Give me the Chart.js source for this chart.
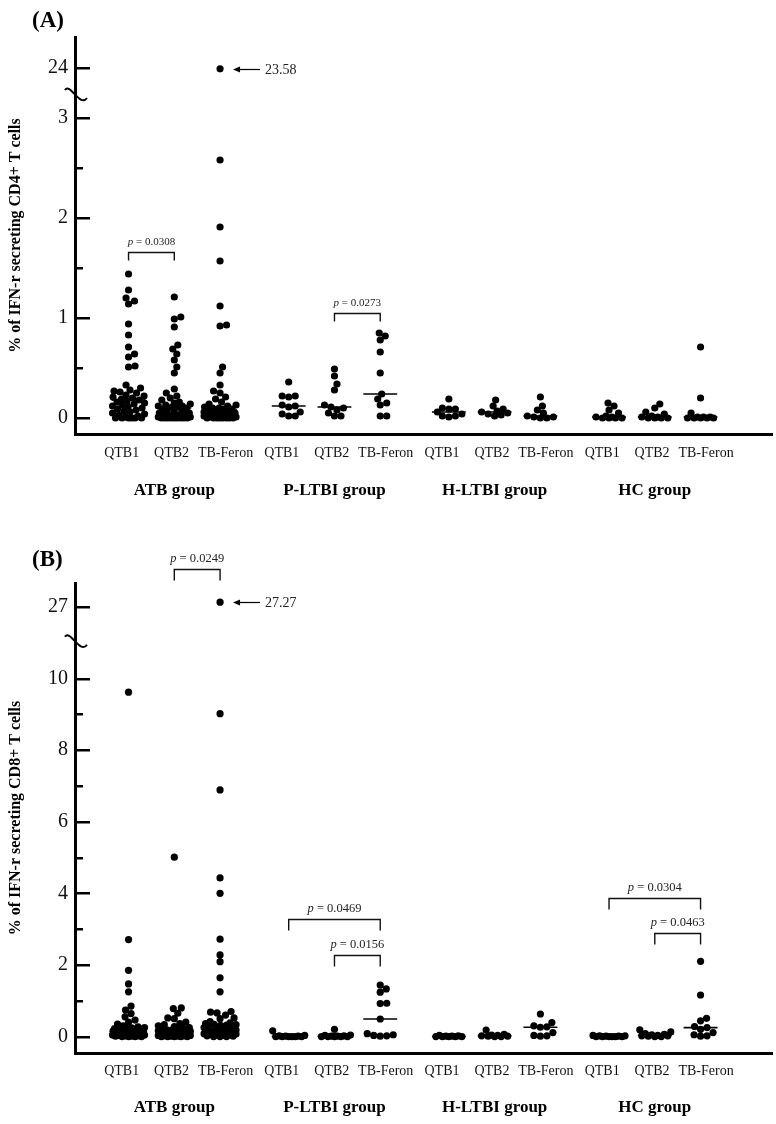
<!DOCTYPE html>
<html><head><meta charset="utf-8">
<script src="https://cdn.jsdelivr.net/npm/chart.js@4.4.1/dist/chart.umd.min.js"></script>
<style>
html,body{margin:0;padding:0;background:#fff;}
#wrap{position:relative;width:776px;height:1124px;overflow:hidden;}
.pane{position:absolute;left:0;width:776px;}
</style></head><body>
<div id="wrap">
  <div class="pane" style="top:0;height:520px"><canvas id="cA" width="776" height="520"></canvas></div>
  <div class="pane" style="top:520px;height:604px"><canvas id="cB" width="776" height="604"></canvas></div>
</div>
<script>
// ---------- categories ----------
const groups  = ['ATB group', 'P-LTBI group', 'H-LTBI group', 'HC group'];
const methods = ['QTB1', 'QTB2', 'TB-Feron'];

// ---------- Panel A: % IFN-r secreting CD4+ T cells ([QTB1, QTB2, TB-Feron]) ----------
const cd4ATB = [
  [1.44,1.28,1.20,1.17,1.14,0.94,0.83,0.71,0.64,0.61,0.52,0.51,0.33,0.30,0.28,0.27,0.26,0.25,0.23,0.22,0.21,0.20,0.19,0.18,0.17,0.16,0.15,0.14,0.13,0.12,0.11,0.10,0.09,0.08,0.07,0.06,0.05,0.04,0.03,0.02,0.01,0,0,0,0,0,0],
  [1.21,1.01,0.99,0.91,0.73,0.69,0.64,0.58,0.51,0.45,0.29,0.25,0.22,0.20,0.18,0.16,0.15,0.14,0.13,0.12,0.12,0.11,0.11,0.10,0.09,0.08,0.07,0.06,0.05,0.05,0.04,0.04,0.03,0.03,0.02,0.02,0.01,0.01,0,0,0,0,0,0,0,0,0],
  [23.58,2.58,1.91,1.57,1.12,0.93,0.92,0.51,0.45,0.33,0.27,0.25,0.21,0.19,0.16,0.14,0.13,0.12,0.11,0.10,0.10,0.09,0.09,0.08,0.07,0.07,0.06,0.06,0.05,0.05,0.04,0.04,0.03,0.03,0.02,0.02,0.02,0.01,0.01,0,0,0,0,0,0,0,0]
];
const cd4PLTBI = [
  [0.36,0.22,0.22,0.21,0.13,0.12,0.11,0.06,0.04,0.02,0.02],
  [0.49,0.42,0.34,0.28,0.13,0.11,0.10,0.08,0.05,0.02,0.02],
  [0.85,0.82,0.78,0.66,0.45,0.24,0.19,0.15,0.13,0.02,0.02]
];
const cd4HLTBI = [
  [0.19,0.10,0.09,0.09,0.06,0.04,0.02,0.02,0.01],
  [0.18,0.12,0.09,0.07,0.06,0.05,0.04,0.03,0.02],
  [0.21,0.12,0.08,0.05,0.02,0.01,0.01,0,0]
];
const cd4HC = [
  [0.15,0.12,0.08,0.05,0.02,0.01,0.01,0,0,0,0],
  [0.14,0.10,0.06,0.04,0.02,0.01,0.01,0,0,0,0],
  [0.71,0.20,0.05,0.01,0.01,0.01,0,0,0,0,0]
];
const cd4MajorTicks = [0, 1, 2, 3, 24];
const cd4MinorTicks = [0.5, 1.5, 2.5];
const cd4Brackets = [
  {group: 0, from: 0, to: 1, level: 1.66, p: '0.0308'},
  {group: 1, from: 1, to: 2, level: 1.05, p: '0.0273'}
];

// ---------- Panel B: % IFN-r secreting CD8+ T cells ----------
const cd8ATB = [
  [9.62,2.71,1.85,1.47,1.25,0.85,0.74,0.64,0.55,0.46,0.40,0.35,0.30,0.27,0.25,0.24,0.23,0.22,0.22,0.21,0.21,0.20,0.20,0.19,0.18,0.16,0.15,0.13,0.12,0.11,0.10,0.09,0.08,0.07,0.06,0.05,0.04,0.04,0.03,0.02,0.02,0.01,0.01,0,0,0,0],
  [5.01,0.80,0.78,0.65,0.52,0.50,0.40,0.36,0.33,0.30,0.28,0.25,0.23,0.21,0.20,0.19,0.18,0.17,0.16,0.15,0.15,0.14,0.14,0.13,0.12,0.11,0.10,0.10,0.09,0.08,0.07,0.06,0.05,0.05,0.04,0.04,0.03,0.03,0.02,0.02,0.01,0.01,0,0,0,0,0],
  [27.27,9.02,6.89,4.43,4.00,2.72,2.28,2.09,1.64,1.25,0.70,0.68,0.66,0.60,0.52,0.50,0.42,0.38,0.36,0.34,0.33,0.32,0.31,0.29,0.27,0.25,0.22,0.20,0.18,0.16,0.15,0.14,0.12,0.11,0.10,0.09,0.08,0.07,0.06,0.05,0.04,0.03,0.02,0.01,0,0,0]
];
const cd8PLTBI = [
  [0.16,0.03,0.02,0.01,0.01,0,0,0,0,0,0],
  [0.20,0.04,0.03,0.02,0.01,0.01,0,0,0,0,0],
  [1.44,1.33,1.24,0.93,0.92,0.49,0.08,0.05,0.03,0.02,0.01]
];
const cd8HLTBI = [
  [0.03,0.02,0.01,0.01,0,0,0,0,0],
  [0.18,0.06,0.04,0.03,0.02,0.01,0.01,0,0],
  [0.63,0.39,0.30,0.27,0.26,0.11,0.03,0.02,0.01]
];
const cd8HC = [
  [0.03,0.02,0.02,0.01,0.01,0,0,0,0,0,0],
  [0.19,0.13,0.08,0.06,0.05,0.03,0.02,0.02,0.01,0,0],
  [2.10,1.16,0.51,0.44,0.28,0.25,0.20,0.11,0.05,0.02,0.01]
];
const cd8MajorTicks = [0, 2, 4, 6, 8, 10, 27];
const cd8MinorTicks = [1, 3, 5, 7, 9];
const cd8Brackets = [
  {group: 0, from: 1, to: 2, level: 13.06, p: '0.0249'},
  {group: 1, from: 0, to: 2, level: 3.28,  p: '0.0469'},
  {group: 1, from: 1, to: 2, level: 2.28,  p: '0.0156'},
  {group: 3, from: 0, to: 2, level: 3.87,  p: '0.0304'},
  {group: 3, from: 1, to: 2, level: 2.90,  p: '0.0463'}
];

// ---------- rendering ----------
const SERIF = "'Liberation Serif','Times New Roman',serif";
Chart.defaults.font.family = SERIF;
Chart.defaults.color = '#000';
const GROUP_STRIDE = 3.5;
const LABEL_SHIFT = [-0.15, -0.06, 0.12];   // label anchor nudges per method (axis units)
const catPos = [], labelPos = [];
groups.forEach((g, gi) => methods.forEach((m, mi) => {
  catPos.push(gi * GROUP_STRIDE + mi);
  labelPos.push(gi * GROUP_STRIDE + mi + LABEL_SHIFT[mi]);
}));

function median(a) {
  const s = [...a].sort((x, y) => x - y), n = s.length;
  return n % 2 ? s[(n - 1) / 2] : (s[n / 2 - 1] + s[n / 2]) / 2;
}

function applySwarm(chart, D, maxHalf) {
  const xs = chart.scales.x, ys = chart.scales.y;
  const unit = xs.getPixelForValue(1) - xs.getPixelForValue(0);
  const cands = [0];
  for (let k = 0.5; k <= maxHalf; k += 0.5) { cands.push(k, -k); }
  chart.data.datasets.forEach(ds => {
    if (!ds.swarm) return;
    const pts = ds.data.map(p => ({p, py: ys.getPixelForValue(p.y)}));
    pts.sort((a, b) => b.py - a.py);
    const placed = [];
    pts.forEach(o => {
      let best = 0, bestD = -1;
      for (const off of cands) {
        let md = Infinity;
        for (const q of placed) {
          const d = Math.hypot(q.ox - off, q.py - o.py);
          if (d < md) md = d;
        }
        if (md >= D) { best = off; break; }
        if (md > bestD) { bestD = md; best = off; }
      }
      o.ox = best; placed.push(o);
      o.p.x = ds.base + best / unit;
    });
  });
  chart.update('none');
}

function buildPanel(id, P) {
  const disp = v => v <= P.brk.lower ? v : P.brk.upperDisp + (v - P.brk.upperBase) * P.brk.factor;
  const majorsDisp = P.majors.map(disp);
  const datasets = [];
  P.data.forEach((grp, g) => grp.forEach((vals, i) => {
    const base = g * GROUP_STRIDE + i;
    datasets.push({
      type: 'scatter', swarm: true, base,
      data: vals.map(v => ({x: base, y: disp(v), v})),
      pointRadius: 3.6, pointHoverRadius: 3.6, backgroundColor: '#000', borderWidth: 0
    });
  }));
  P.data.forEach((grp, g) => grp.forEach((vals, i) => {
    const base = g * GROUP_STRIDE + i, m = disp(median(vals));
    datasets.push({
      type: 'line', data: [{x: base - 0.37, y: m}, {x: base + 0.37, y: m}],
      borderColor: '#000', borderWidth: 1.6, pointRadius: 0, showLine: true, fill: false
    });
  }));

  const deco = {
    id: 'deco',
    afterDraw(chart) {
      const {ctx, chartArea: ca, scales: {x: xs, y: ys}} = chart;
      ctx.save();
      ctx.strokeStyle = '#000'; ctx.fillStyle = '#000';
      // inward tick marks
      ctx.lineWidth = 2.5;
      ys.ticks.forEach(t => {
        const py = Math.round(ys.getPixelForValue(t.value)) + 0.25;
        const major = majorsDisp.some(d => Math.abs(d - t.value) < 1e-6);
        ctx.beginPath(); ctx.moveTo(ca.left, py); ctx.lineTo(ca.left + (major ? 15 : 8), py); ctx.stroke();
      });
      // axis break squiggle
      const by = ys.getPixelForValue(P.breakAt), bx = ca.left;
      ctx.lineWidth = 2;
      ctx.beginPath(); ctx.moveTo(bx - 10, by - 6);
      ctx.bezierCurveTo(bx - 5, by - 14, bx + 5, by + 12, bx + 12, by + 2);
      ctx.stroke();
      // group labels
      ctx.font = 'bold 17px ' + SERIF; ctx.textAlign = 'center'; ctx.textBaseline = 'middle';
      groups.forEach((g, gi) => ctx.fillText(g, xs.getPixelForValue(gi * GROUP_STRIDE + 1), ca.bottom + P.groupOffset));
      // brackets with p values
      P.brackets.forEach(b => {
        const x1 = xs.getPixelForValue(b.group * GROUP_STRIDE + b.from);
        const x2 = xs.getPixelForValue(b.group * GROUP_STRIDE + b.to);
        const y = Math.round(ys.getPixelForValue(b.level)) + 0.5;
        ctx.strokeStyle = '#111'; ctx.lineWidth = 1.4;
        ctx.beginPath(); ctx.moveTo(x1, y + P.leg); ctx.lineTo(x1, y); ctx.lineTo(x2, y); ctx.lineTo(x2, y + P.leg); ctx.stroke();
        const fi = 'italic ' + P.pFont + 'px ' + SERIF, fn = P.pFont + 'px ' + SERIF;
        const t1 = 'p', t2 = ' = ' + b.p;
        ctx.font = fi; const w1 = ctx.measureText(t1).width;
        ctx.font = fn; const w2 = ctx.measureText(t2).width;
        const sx = (x1 + x2) / 2 - (w1 + w2) / 2, ty = y - P.pGap;
        ctx.fillStyle = '#222'; ctx.textAlign = 'left'; ctx.textBaseline = 'middle';
        ctx.font = fi; ctx.fillText(t1, sx, ty);
        ctx.font = fn; ctx.fillText(t2, sx + w1, ty);
      });
      // arrow to the maximum value
      let best = null;
      chart.data.datasets.forEach((ds, di) => {
        if (!ds.swarm) return;
        ds.data.forEach((p, pi) => { if (!best || p.v > best.v) best = {v: p.v, di, pi}; });
      });
      const el = chart.getDatasetMeta(best.di).data[best.pi];
      const hx = el.x + 13, tx = hx + 27, ay = Math.round(el.y) + 0.5;
      ctx.strokeStyle = '#000'; ctx.fillStyle = '#000'; ctx.lineWidth = 1.2;
      ctx.beginPath(); ctx.moveTo(tx, ay); ctx.lineTo(hx + 5, ay); ctx.stroke();
      ctx.beginPath(); ctx.moveTo(hx, ay); ctx.lineTo(hx + 7, ay - 3); ctx.lineTo(hx + 7, ay + 3); ctx.closePath(); ctx.fill();
      ctx.font = '14px ' + SERIF; ctx.textAlign = 'left'; ctx.textBaseline = 'middle';
      ctx.fillStyle = '#222';
      ctx.fillText(best.v.toFixed(2), tx + 5, ay + 1);
      // panel letter
      ctx.fillStyle = '#000';
      ctx.font = 'bold 23px ' + SERIF; ctx.textAlign = 'left'; ctx.textBaseline = 'middle';
      ctx.fillText(P.letter, 32, P.letterY);
      ctx.restore();
    }
  };

  const chart = new Chart(document.getElementById(id), {
    type: 'scatter',
    data: {datasets},
    options: {
      responsive: false, animation: false, events: [],
      layout: {padding: {top: P.padTop, left: 0, right: 0, bottom: 0}},
      plugins: {legend: {display: false}, tooltip: {enabled: false}},
      scales: {
        x: {
          type: 'linear', min: -1.17, max: 14.07,
          afterBuildTicks: s => { s.ticks = labelPos.map(v => ({value: v})); },
          afterFit: s => { s.height = P.xHeight; },
          ticks: {
            autoSkip: false, maxRotation: 0, padding: P.xPad, color: '#111',
            font: {size: 14, family: SERIF},
            callback: v => { const k = labelPos.findIndex(p => Math.abs(p - v) < 1e-6); return k >= 0 ? methods[k % 3] : ''; }
          },
          grid: {display: false, drawTicks: false},
          border: {display: true, width: 3, color: '#000'}
        },
        y: {
          type: 'linear', min: P.yMin, max: P.yMax,
          afterBuildTicks: s => { s.ticks = [...majorsDisp, ...P.minors].sort((a, b) => a - b).map(v => ({value: v})); },
          afterFit: s => { s.width = 75; },
          ticks: {
            autoSkip: false, padding: 7, color: '#111',
            font: {size: 20, family: SERIF},
            callback: v => { const k = majorsDisp.findIndex(d => Math.abs(d - v) < 1e-6); return k >= 0 ? String(P.majors[k]) : ''; }
          },
          grid: {display: false, drawTicks: false},
          border: {display: true, width: 3, color: '#000'},
          title: {display: true, text: P.title, color: '#000', font: {size: 16, weight: 'bold', family: SERIF}, padding: {top: 6, bottom: 0}}
        }
      }
    },
    plugins: [deco]
  });
  applySwarm(chart, 6.4, 16);
  return chart;
}

buildPanel('cA', {
  letter: '(A)', letterY: 21,
  title: '% of IFN-r secreting CD4+ T cells',
  data: [cd4ATB, cd4PLTBI, cd4HLTBI, cd4HC],
  majors: cd4MajorTicks, minors: cd4MinorTicks,
  brk: {lower: 3, upperBase: 24, upperDisp: 3.5, factor: 0.02}, breakAt: 3.22,
  yMin: -0.16, yMax: 3.81, padTop: 37, xHeight: 86, groupOffset: 57, xPad: 11,
  brackets: cd4Brackets, leg: 8, pFont: 11, pGap: 10
});
buildPanel('cB', {
  letter: '(B)', letterY: 40,
  title: '% of IFN-r secreting CD8+ T cells',
  data: [cd8ATB, cd8PLTBI, cd8HLTBI, cd8HC],
  majors: cd8MajorTicks, minors: cd8MinorTicks,
  brk: {lower: 10, upperBase: 27, upperDisp: 12, factor: 0.5}, breakAt: 11.0,
  yMin: -0.46, yMax: 12.67, padTop: 63, xHeight: 71, groupOffset: 55, xPad: 10,
  brackets: cd8Brackets, leg: 11, pFont: 12.5, pGap: 11
});
</script>
</body></html>
